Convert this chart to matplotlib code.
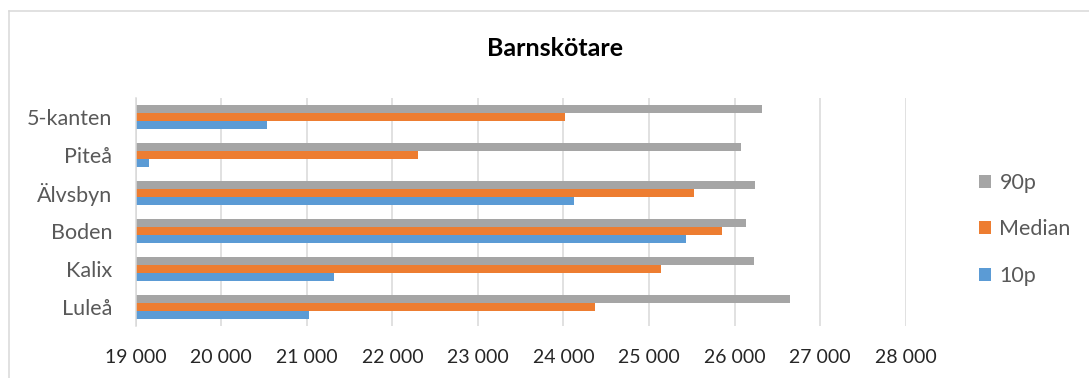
import matplotlib
matplotlib.use("Agg")
import matplotlib.pyplot as plt
from matplotlib.lines import Line2D
from matplotlib.ticker import FuncFormatter, MultipleLocator
import numpy as np

categories = ["Luleå", "Kalix", "Boden", "Älvsbyn", "Piteå", "5-kanten"]
p10 = [21030, 21320, 25430, 24120, 19150, 20530]
median = [24370, 25140, 25850, 25530, 22300, 24020]
p90 = [26650, 26230, 26130, 26240, 26080, 26320]
series_names = ["10p", "Median", "90p"]
colors = ["#5B9BD5", "#ED7D31", "#A5A5A5"]
title = "Barnskötare"

plt.rcParams["font.family"] = ["Lato", "DejaVu Sans"]

W, H = 1089, 378
fig = plt.figure(figsize=(W / 100, H / 100), dpi=100)
fig.patch.set_facecolor("white")

left, right, top, bottom = 135.7, 905.7, 98, 326
ax = fig.add_axes([left / W, 1 - bottom / H, (right - left) / W, (bottom - top) / H])

y = np.arange(len(categories))
bh = 0.21
handles = []
for off, vals, name, col in zip([-bh, 0, bh], [p10, median, p90], series_names, colors):
    b = ax.barh(y + off, vals, height=bh, color=col, label=name, zorder=3)
    handles.append(b)

ax.set_xlim(19000, 28000)
ax.set_ylim(-0.5, len(categories) - 0.5)
ax.xaxis.set_major_locator(MultipleLocator(1000))
ax.xaxis.set_major_formatter(FuncFormatter(lambda v, p: f"{int(v):,}".replace(",", " ")))
ax.set_yticks(y)
ax.set_yticklabels(categories)
ax.grid(axis="x", color="#D9D9D9", linewidth=1.1, zorder=0)
for s in ["top", "right", "bottom"]:
    ax.spines[s].set_visible(False)
ax.spines["left"].set_color("#D9D9D9")
ax.spines["left"].set_linewidth(1.1)
ax.spines["left"].set_zorder(4)
ax.tick_params(axis="x", length=0, pad=16.5, labelsize=14, labelcolor="#262626")
ax.tick_params(axis="y", length=0, pad=17, labelsize=15.5, labelcolor="#595959")

fig.text(555 / W, 1 - 48 / H, title, ha="center", va="center",
         fontsize=18, fontweight="bold", color="#000000")

fig.legend(handles[::-1], [h.get_label() for h in handles[::-1]],
           loc="upper left", bbox_to_anchor=(979 / W, 1 - 173 / H),
           frameon=False, fontsize=15.5, labelcolor="#595959",
           handlelength=0.55, handleheight=0.55, handletextpad=0.4,
           labelspacing=1.23, borderaxespad=0, borderpad=0)

fig.add_artist(Line2D([8.5 / W, 8.5 / W], [0, 1 - 10.5 / H], color="#D9D9D9", linewidth=1.1))
fig.add_artist(Line2D([8.5 / W, 1], [1 - 10.5 / H, 1 - 10.5 / H], color="#D9D9D9", linewidth=1.1))

fig.savefig("out.png", dpi=100, facecolor="white")
